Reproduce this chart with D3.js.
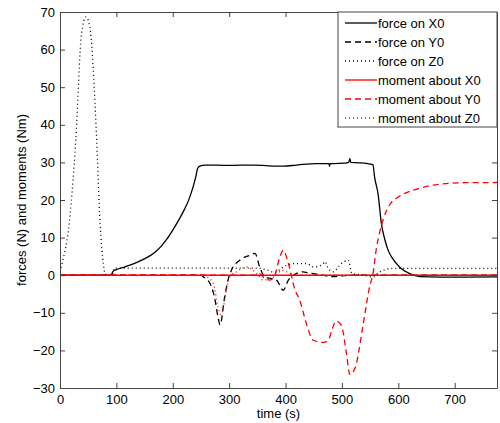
<!DOCTYPE html>
<html>
<head>
<meta charset="utf-8">
<script src="https://cdn.jsdelivr.net/npm/d3@7"></script>
<style>
  body { margin: 0; background: #fff; }
  text { font-family: "Liberation Sans", Arial, sans-serif; }
</style>
</head>
<body>
<div id="app"></div>
<script>
// force on X0
const fxT = [0, 90, 94, 100, 115, 130, 145, 160, 170, 180, 190, 200, 210, 220, 228, 236, 241, 244, 248, 257, 300, 343, 370, 396, 420, 455, 477, 478, 479, 485, 505, 512, 514, 516, 530, 555, 558, 564, 570, 576, 582, 590, 602, 620, 638, 673, 775];
const fxV = [0, 0, 1, 1.5, 2.2, 3.0, 4.0, 5.2, 6.3, 7.8, 9.7, 12, 14.5, 17.3, 19.9, 23.5, 26.3, 28.4, 29, 29.3, 29.2, 29.3, 29.1, 29, 29.3, 29.7, 29.7, 29, 29.7, 29.7, 29.8, 30, 31, 30, 29.9, 29.4, 26, 21.7, 13.7, 9.5, 6.6, 4.4, 2.2, 0.4, -0.4, -0.5, -0.45];

// force on Y0
const fyT = [0, 250, 254, 266, 275, 280, 284, 292, 298, 304, 319, 337, 346, 354, 363, 384, 396, 405, 414, 431, 440, 455, 484, 514, 775];
const fyV = [0, 0, -0.4, -2.2, -6.6, -11, -13.2, -5.8, -1.3, 1.3, 4, 5.3, 5.8, 2.2, -0.4, -1.3, -4, -1.3, 0, 0.9, 0.6, 0.3, -0.4, 0, 0];

// force on Z0
const fzT = [0, 5, 15, 28, 38, 46, 53, 62, 65, 71, 77, 80, 90, 93, 96, 350, 365, 380, 400, 415, 437, 450, 465, 471, 473, 484, 499, 511, 518, 540, 555, 567, 590, 775];
const fzV = [1, 4, 12, 36, 64, 68.7, 66, 46, 36, 14, 3, 0.3, 0, 0, 1.9, 1.9, 1.5, 0.8, 2.5, 3.1, 3.1, 2.2, 2.8, 3.6, 2.6, 0.9, 3.1, 4, 0.4, 0, -0.5, 0.9, 1.8, 1.8];

// moment about X0
const mxT = [0, 775];
const mxV = [0, 0];

// moment about Y0
const myT = [0, 350, 354, 363, 372, 381, 390, 396, 405, 417, 425, 437, 449, 467, 476, 482, 490, 499, 508, 514, 523, 538, 549, 555, 561, 567, 574, 585, 600, 626, 650, 679, 720, 775];
const myV = [0, 0, 0.4, -0.9, -1.3, 0, 4.9, 6.6, 3.1, -4, -6.6, -12.9, -17.3, -17.9, -17.3, -14.6, -12.2, -13.3, -20.8, -26.4, -24.8, -12.8, -3.1, 0.4, 7, 11.5, 15.2, 18.8, 20.8, 22.6, 23.6, 24.3, 24.6, 24.65];

// moment about Z0
const mzT = [0, 255, 260, 272, 280, 285, 290, 295, 301, 313, 331, 340, 351, 360, 372, 384, 393, 402, 415, 775];
const mzV = [0, 0, -0.4, -2.2, -8.4, -10.5, -8.4, -4, -0.4, 0.9, 2.2, 1.6, 0, -1.3, -0.9, 0, 1.3, 0.9, 0, 0];

const names = ["force on X0", "force on Y0", "force on Z0", "moment about X0", "moment about Y0", "moment about Z0"];
const colors = ["#000", "#000", "#000", "#ff0000", "#ff0000", "#ff0000"];
const dashes = [null, "6,4", "1,3", null, "6,4", "1,3"];
const xTicks = [0, 100, 200, 300, 400, 500, 600, 700];
const yTicks = [-30, -20, -10, 0, 10, 20, 30, 40, 50, 60, 70];

const times = [fxT, fyT, fzT, mxT, myT, mzT];
const vals = [fxV, fyV, fzV, mxV, myV, mzV];

const w = 500, h = 423;
const pL = 60, pT = 12, pR = 497, pB = 388;

const svg = d3.select("#app").append("svg")
  .attr("width", w)
  .attr("height", h);

const x = d3.scaleLinear().domain([0, 775]).range([pL, pR]);
const y = d3.scaleLinear().domain([-30, 70]).range([pB, pT]);

svg.append("clipPath").attr("id", "clip")
  .append("rect")
  .attr("x", pL).attr("y", pT)
  .attr("width", pR - pL).attr("height", pB - pT);

const line = d3.line()
  .x(function (d) { return x(d[0]); })
  .y(function (d) { return y(d[1]); })
  .curve(d3.curveMonotoneX);

// draw order: force Z dotted under others, moments on top
[2, 0, 1, 5, 4, 3].forEach(function (i) {
  const pts = times[i].map(function (t, j) { return [t, vals[i][j]]; });
  svg.append("path")
    .attr("clip-path", "url(#clip)")
    .attr("d", line(pts))
    .attr("fill", "none")
    .attr("stroke", colors[i])
    .attr("stroke-width", i === 3 ? 1.5 : 1.3)
    .attr("stroke-dasharray", dashes[i]);
});

function styleAxis(g) {
  g.selectAll("path, line").attr("stroke", "#444");
  g.selectAll("text")
    .attr("font-size", "13px")
    .attr("fill", "#000")
    .attr("font-family", "Liberation Sans, Arial, sans-serif");
}

svg.append("g")
  .attr("transform", "translate(0," + pB + ")")
  .call(d3.axisBottom(x).tickValues(xTicks).tickSizeInner(-5).tickSizeOuter(0).tickPadding(7))
  .call(styleAxis);

svg.append("g")
  .attr("transform", "translate(0," + pT + ")")
  .call(d3.axisTop(x).tickValues(xTicks).tickSizeInner(-5).tickSizeOuter(0).tickFormat(""))
  .call(styleAxis);

svg.append("g")
  .attr("transform", "translate(" + pL + ",0)")
  .call(d3.axisLeft(y).tickValues(yTicks).tickSizeInner(-5).tickSizeOuter(0).tickPadding(5))
  .call(styleAxis);

svg.append("g")
  .attr("transform", "translate(" + pR + ",0)")
  .call(d3.axisRight(y).tickValues(yTicks).tickSizeInner(-5).tickSizeOuter(0).tickFormat(""))
  .call(styleAxis);

// axis titles
svg.append("text")
  .attr("x", (pL + pR) / 2)
  .attr("y", 418)
  .attr("text-anchor", "middle")
  .attr("font-size", "13px")
  .text("time (s)");

svg.append("text")
  .attr("transform", "translate(26," + (pT + pB) / 2 + ") rotate(-90)")
  .attr("text-anchor", "middle")
  .attr("font-size", "13px")
  .text("forces (N) and moments (Nm)");

// legend
const lg = svg.append("g");
lg.append("rect")
  .attr("x", 338).attr("y", pT)
  .attr("width", pR - 338).attr("height", 115)
  .attr("fill", "#fff")
  .attr("stroke", "#444");

names.forEach(function (n, i) {
  const ly = 23 + i * 19;
  lg.append("line")
    .attr("x1", 345).attr("x2", 377)
    .attr("y1", ly).attr("y2", ly)
    .attr("stroke", colors[i])
    .attr("stroke-width", 1.3)
    .attr("stroke-dasharray", dashes[i]);
  lg.append("text")
    .attr("x", 378).attr("y", ly)
    .attr("dy", "0.35em")
    .attr("font-size", "13px")
    .text(n);
});
</script>
</body>
</html>
